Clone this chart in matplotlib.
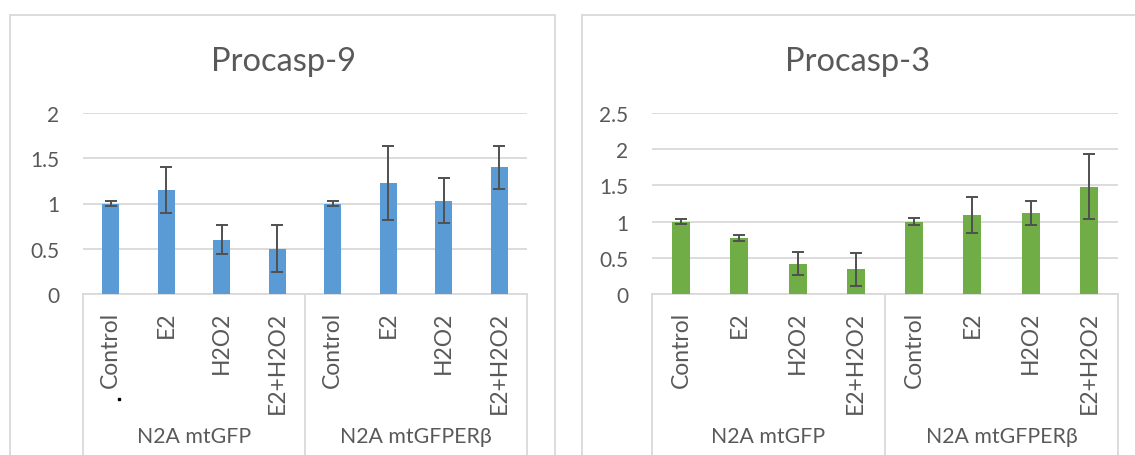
import numpy as np
import matplotlib
matplotlib.use('Agg')
import matplotlib.pyplot as plt
import matplotlib.transforms as mtransforms
from matplotlib.patches import Rectangle

plt.rcParams['font.family'] = ['Lato', 'DejaVu Sans']

groups = ['N2A mtGFP', 'N2A mtGFPERβ']
treatments = ['Control', 'E2', 'H2O2', 'E2+H2O2']
labels = treatments * 2

casp9 = [1.00, 1.15, 0.60, 0.50, 1.00, 1.23, 1.03, 1.40]
casp9_err = [0.03, 0.25, 0.16, 0.26, 0.03, 0.41, 0.25, 0.24]
casp3 = [1.00, 0.77, 0.42, 0.34, 1.00, 1.09, 1.12, 1.48]
casp3_err = [0.04, 0.04, 0.16, 0.23, 0.05, 0.25, 0.17, 0.45]

W, H = 1135, 456
TXT = '#595959'
GRID = '#D9D9D9'

fig = plt.figure(figsize=(W / 100, H / 100), dpi=100)


def fx(px):
    return px / W


def fy(py):
    return 1 - py / H


# panel borders
for (x0, x1) in [(10, 555), (582, 1140)]:
    fig.add_artist(Rectangle((fx(x0), fy(470)), fx(x1 - x0), (470 - 16) / H,
                             transform=fig.transFigure, fill=False,
                             ec=GRID, lw=1.3))


def panel(x0, x1, vals, errs, color, ymax, title, title_x):
    ax = fig.add_axes([fx(x0), fy(295), fx(x1 - x0), (295 - 114) / H])
    x = np.arange(len(vals))
    ax.bar(x, vals, width=0.31, color=color, zorder=3)
    ax.errorbar(x, vals, yerr=errs, fmt='none', ecolor='#505050',
                elinewidth=1.4, capsize=4.5, capthick=1.4, zorder=4)
    ax.set_xlim(-0.5, len(vals) - 0.5)
    ax.set_ylim(0, ymax)
    ax.set_yticks(np.arange(0, ymax + 0.01, 0.5))
    ax.set_yticklabels([f'{v:g}' for v in np.arange(0, ymax + 0.01, 0.5)])
    ax.grid(axis='y', color=GRID, lw=1.3, zorder=0)
    for s in ['top', 'right', 'left']:
        ax.spines[s].set_visible(False)
    ax.spines['bottom'].set_color(GRID)
    ax.spines['bottom'].set_linewidth(1.3)
    ax.set_xticks(x)
    ax.set_xticklabels(labels, rotation=90)
    ax.tick_params(axis='x', length=0, pad=12, labelsize=16.5, labelcolor=TXT)
    ax.tick_params(axis='y', length=0, pad=17, labelsize=15, labelcolor=TXT)

    # category separators and group labels
    tr = mtransforms.blended_transform_factory(ax.transData, fig.transFigure)
    for xs in [-0.5, 3.5, 7.5]:
        ax.plot([xs, xs], [fy(295), fy(470)], color=GRID, lw=1.3,
                transform=tr, clip_on=False)
    for i, g in enumerate(groups):
        ax.text(1.5 + 4 * i, fy(437), g, transform=tr, ha='center',
                va='center', fontsize=15.3, color=TXT)
    fig.text(fx(title_x), fy(62), title, ha='center', va='center',
             fontsize=23.5, color=TXT)
    return ax


panel(83, 527, casp9, casp9_err, '#5B9BD5', 2, 'Procasp-9', 283)
panel(652, 1118, casp3, casp3_err, '#70AD47', 2.5, 'Procasp-3', 858)

# stray mark under the first label
fig.add_artist(Rectangle((fx(118), fy(401)), fx(2), 2 / H,
                         transform=fig.transFigure, color='black'))

fig.savefig('out.png', dpi=100)
